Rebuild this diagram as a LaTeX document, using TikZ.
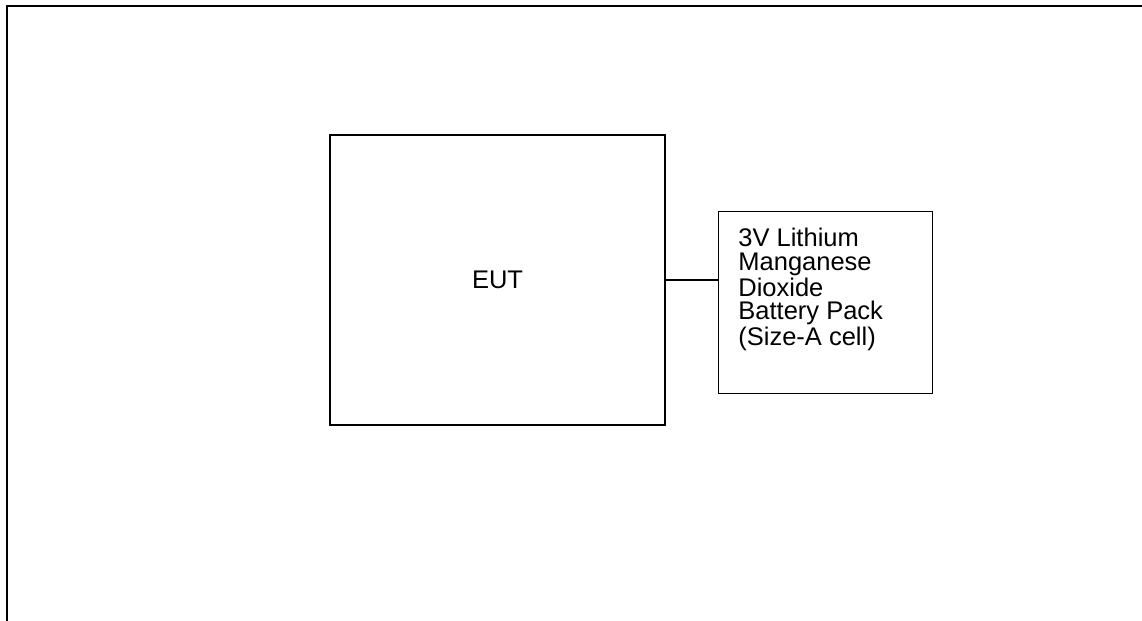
\documentclass[tikz,border=0pt]{standalone}
\usepackage{fontspec}
\setmainfont{Liberation Sans}
\usetikzlibrary{positioning}

\begin{document}
\begin{tikzpicture}[x=0.5pt, y=-0.5pt,
  blockbox/.style={draw, line width=0.6pt, inner sep=0pt},
  blocktext/.style={font=\fontsize{12.75pt}{11.75pt}\selectfont, inner sep=0pt}]
\useasboundingbox (0,0) rectangle (1142,621);
% Outer frame (top and left edges only)
\draw[line width=1pt] (7,621) -- (7,6) -- (1142,6);
% EUT
\node[blockbox, blocktext, minimum width=167.5pt, minimum height=145pt] (eut) at (497.5,280) {EUT};
% Battery pack
\node[blockbox, minimum width=107pt, minimum height=91pt, anchor=north west] (batt) at (718,211) {};
\node[blocktext, align=left, anchor=north west] (batttext) at ([shift={(20,17)}]batt.north west)
  {3V Lithium\\Manganese\\Dioxide\\Battery Pack\\(Size-A cell)};
% Link
\draw[line width=0.6pt] (eut.east) -- (eut.east -| batt.west);
\end{tikzpicture}
\end{document}
